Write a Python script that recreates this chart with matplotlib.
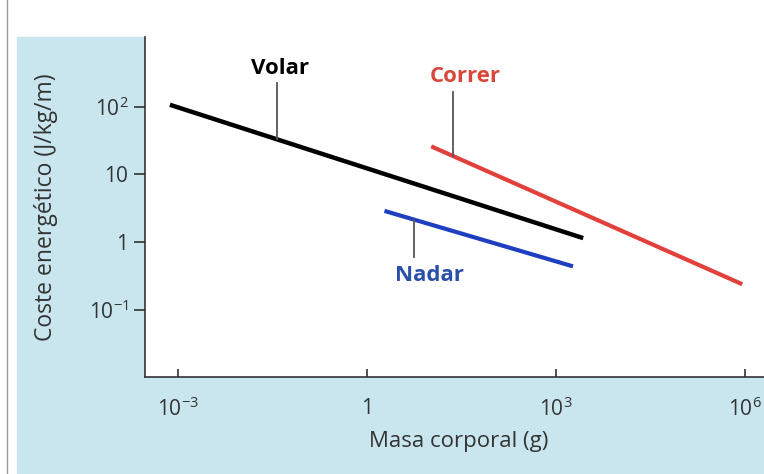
import matplotlib
matplotlib.use("Agg")
import matplotlib.pyplot as plt
from matplotlib.patches import Rectangle

plt.rcParams['font.family'] = ['Open Sans', 'DejaVu Sans']
plt.rcParams['mathtext.fontset'] = 'custom'
plt.rcParams['mathtext.rm'] = 'Open Sans'
plt.rcParams['mathtext.it'] = 'Open Sans'

# endpoints of each fitted line (mass in g, cost in J/kg/m)
volar_mass = [7.5e-4, 2700]
volar_cost = [107, 1.15]
correr_mass = [10.5, 9e5]
correr_cost = [26, 0.24]
nadar_mass = [1.9, 1860]
nadar_cost = [2.9, 0.44]

x_ticks = [1e-3, 1, 1e3, 1e6]
x_labels = ['10$^{-3}$', '1', '10$^{3}$', '10$^{6}$']
y_ticks = [0.1, 1, 10, 100]
y_labels = ['10$^{-1}$', '1', '10', '10$^{2}$']

bg = '#c9e6ef'

fig = plt.figure(figsize=(7.64, 4.74), dpi=100, facecolor='white')
W, H = 764, 474
# scanned light-blue panel behind the axes
fig.patches.append(Rectangle((17 / W, 0), (145 - 17) / W, (H - 37) / H,
                             transform=fig.transFigure, color=bg, zorder=-1))
fig.patches.append(Rectangle((145 / W, 0), 1, (H - 377) / H,
                             transform=fig.transFigure, color=bg, zorder=-1))
fig.add_artist(plt.Line2D([7 / W, 7 / W], [0, 1], transform=fig.transFigure,
                          color='#9a9a9a', lw=1, zorder=-1))

ax = fig.add_axes([145 / W, (H - 377) / H, (W - 145) / W, (377 - 37) / H])
ax.set_zorder(2)
ax.set_facecolor('white')
ax.set_xscale('log')
ax.set_yscale('log')
ax.set_xlim(10 ** -3.52, 10 ** 6.3)
ax.set_ylim(10 ** -1.99, 10 ** 3.03)

ax.plot(volar_mass, volar_cost, color='black', lw=3.2, solid_capstyle='butt')
ax.plot(correr_mass, correr_cost, color='#e2403a', lw=3.0, solid_capstyle='butt')
ax.plot(nadar_mass, nadar_cost, color='#1e3fbf', lw=3.0, solid_capstyle='butt')

# leader lines + labels
lead = '#555555'
ax.plot([0.038, 0.038], [226, 33], color=lead, lw=1.3)
ax.plot([23, 23], [166, 19], color=lead, lw=1.3)
ax.plot([5.6, 5.6], [2.14, 0.60], color=lead, lw=1.3)
ax.text(0.042, 370, 'Volar', color='black', fontsize=16, fontweight='bold',
        ha='center', va='center')
ax.text(37, 278, 'Correr', color='#d9473a', fontsize=16, fontweight='bold',
        ha='center', va='center')
ax.text(10, 0.32, 'Nadar', color='#2a4fa8', fontsize=16, fontweight='bold',
        ha='center', va='center')

for s in ['top', 'right']:
    ax.spines[s].set_visible(False)
for s in ['left', 'bottom']:
    ax.spines[s].set_color('#333333')
    ax.spines[s].set_linewidth(1.2)

ax.set_xticks(x_ticks)
ax.set_xticklabels(x_labels)
ax.set_yticks(y_ticks)
ax.set_yticklabels(y_labels)
ax.minorticks_off()
ax.tick_params(axis='x', direction='in', length=6, width=1.2, pad=15,
               labelsize=15, colors='#333333')
ax.tick_params(axis='y', direction='out', length=8, width=1.2, pad=4,
               labelsize=15, colors='#333333')

ax.set_xlabel('Masa corporal (g)', fontsize=16, color='#333333')
ax.set_ylabel('Coste energético (J/kg/m)', fontsize=16.5, color='#333333')
ax.xaxis.set_label_coords(0.506, -0.16)
ax.yaxis.set_label_coords(-0.14, 0.5)

fig.savefig('out.png', dpi=100, facecolor=fig.get_facecolor())
